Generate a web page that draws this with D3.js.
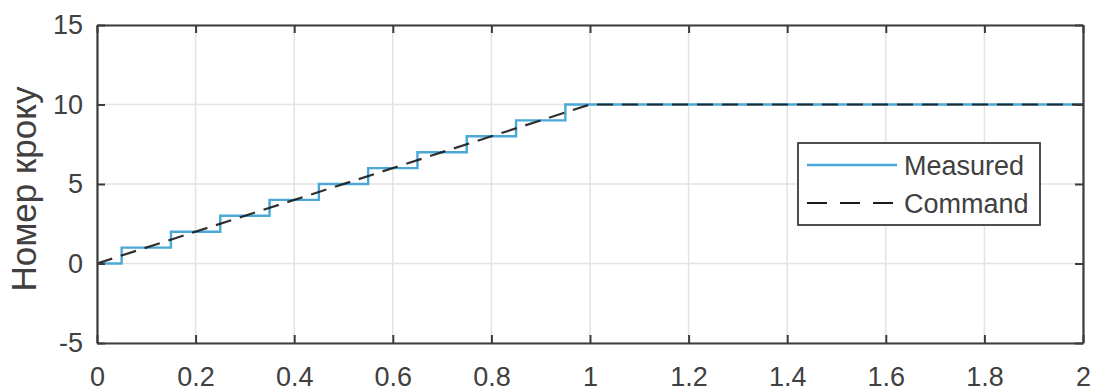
<!DOCTYPE html>
<html><head><meta charset="utf-8">
<script src="https://cdn.jsdelivr.net/npm/d3@7"></script>
<style>body{margin:0;background:#fff}svg{display:block}text{font-family:"Liberation Sans",Arial,sans-serif;fill:#404040}</style>
</head><body><svg id="c" width="1096" height="392"></svg>
<script>
// Data
const xTicks = [0,0.2,0.4,0.6,0.8,1,1.2,1.4,1.6,1.8,2];
const xTickLabels = ["0","0.2","0.4","0.6","0.8","1","1.2","1.4","1.6","1.8","2"];
const yTicks = [-5,0,5,10,15];
const yTickLabels = ["-5","0","5","10","15"];
const measuredT = [0,0.05,0.15,0.25,0.35,0.45,0.55,0.65,0.75,0.85,0.95,2];
const measuredV = [0,1,2,3,4,5,6,7,8,9,10,10];
const commandT = [0,1,2];
const commandV = [0,10,10];
const seriesNames = ["Measured","Command"];
const yLabel = "Номер кроку";

const svg = d3.select("#c");
const L=97,R=1083,T=25,B=343;
const x = d3.scaleLinear().domain([0,2]).range([L,R]);
const y = d3.scaleLinear().domain([-5,15]).range([B,T]);

// grid
const g = svg.append("g");
g.selectAll(".gx").data(xTicks).enter().append("line")
 .attr("x1",d=>x(d)).attr("x2",d=>x(d)).attr("y1",T).attr("y2",B)
 .attr("stroke","#e3e3e3").attr("stroke-width",1.5);
g.selectAll(".gy").data(yTicks).enter().append("line")
 .attr("y1",d=>y(d)).attr("y2",d=>y(d)).attr("x1",L).attr("x2",R)
 .attr("stroke","#e3e3e3").attr("stroke-width",1.5);

// data lines
const mData = measuredT.map((t,i)=>[t,measuredV[i]]);
const cData = commandT.map((t,i)=>[t,commandV[i]]);
const lineStep = d3.line().x(d=>x(d[0])).y(d=>y(d[1])).curve(d3.curveStepAfter);
const lineLin = d3.line().x(d=>x(d[0])).y(d=>y(d[1]));
svg.append("path").attr("d",lineStep(mData)).attr("fill","none")
 .attr("stroke","#4aa8d6").attr("stroke-width",2.4);
svg.append("path").attr("d",lineLin(cData)).attr("fill","none")
 .attr("stroke","#1a1a1a").attr("stroke-width",2.2).attr("stroke-dasharray","16,9").attr("opacity",0.9);

// axes with inward ticks
const tl=8;
const axB = d3.axisBottom(x).tickValues(xTicks).tickFormat((d,i)=>xTickLabels[i]).tickSizeInner(-tl).tickSizeOuter(0).tickPadding(24);
const axT = d3.axisTop(x).tickValues(xTicks).tickFormat("").tickSizeInner(-tl).tickSizeOuter(0);
const axL = d3.axisLeft(y).tickValues(yTicks).tickFormat((d,i)=>yTickLabels[i]).tickSizeInner(-tl).tickSizeOuter(0).tickPadding(14);
const axRr = d3.axisRight(y).tickValues(yTicks).tickFormat("").tickSizeInner(-tl).tickSizeOuter(0);
function style(sel){sel.selectAll("path").attr("stroke","#3c3c3c").attr("stroke-width",2.2);
 sel.selectAll(".tick line").attr("stroke","#3c3c3c").attr("stroke-width",2);
 sel.selectAll("text").attr("font-size",27).attr("fill","#404040").attr("font-family","Liberation Sans, Arial, sans-serif");}
style(svg.append("g").attr("transform",`translate(0,${B})`).call(axB));
style(svg.append("g").attr("transform",`translate(0,${T})`).call(axT));
style(svg.append("g").attr("transform",`translate(${L},0)`).call(axL));
style(svg.append("g").attr("transform",`translate(${R},0)`).call(axRr));

// y label
svg.append("text").attr("transform",`translate(36,189) rotate(-90)`)
 .attr("text-anchor","middle").attr("font-size",35).text(yLabel);

// legend
const lg = svg.append("g");
lg.append("rect").attr("x",798).attr("y",143).attr("width",242).attr("height",82)
 .attr("fill","#fff").attr("stroke","#3c3c3c").attr("stroke-width",1.8);
const lx1=807,lx2=897;
lg.append("line").attr("x1",lx1).attr("x2",lx2).attr("y1",165).attr("y2",165)
 .attr("stroke","#4aa8d6").attr("stroke-width",2.4);
lg.append("line").attr("x1",lx1).attr("x2",lx2).attr("y1",203).attr("y2",203)
 .attr("stroke","#1a1a1a").attr("stroke-width",2.2).attr("stroke-dasharray","20,13");
lg.append("text").attr("x",904).attr("y",175).attr("font-size",27).text(seriesNames[0]);
lg.append("text").attr("x",904).attr("y",213).attr("font-size",27).text(seriesNames[1]);
</script></body></html>
